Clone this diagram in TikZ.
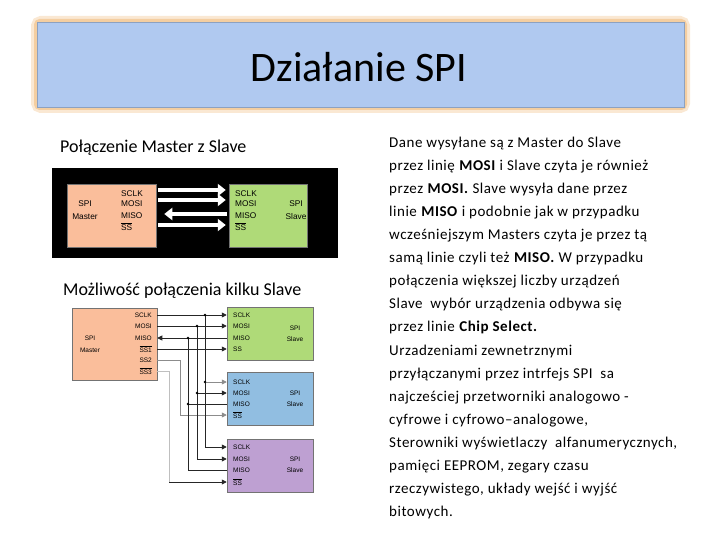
\documentclass[tikz,border=0pt]{standalone}
\usepackage{fontspec}
\setmainfont{Carlito}
\newfontfamily\diagfont{Liberation Sans}
\newfontfamily\wideface[LetterSpace=3.5]{Carlito}
\usetikzlibrary{positioning,arrows.meta}

% kolory
\definecolor{masterfill}{RGB}{250,190,155}
\definecolor{slavegreen}{RGB}{175,218,120}
\definecolor{slaveblue}{RGB}{145,190,225}
\definecolor{slavepurple}{RGB}{190,160,210}
\definecolor{titleblue}{RGB}{176,201,240}
\definecolor{titleglow}{RGB}{240,190,130}

\newcommand{\negpin}[1]{$\overline{\mbox{#1}}$}

\tikzset{
  chip/.style={draw=black!55,line width=0.5pt,inner sep=0},
  bigpin/.style={font=\diagfont\fontsize{8.3}{9}\selectfont,inner sep=0},
  smallpin/.style={font=\diagfont\fontsize{6.5}{7}\selectfont,inner sep=0},
  caption/.style={anchor=base west,font=\fontsize{18}{20}\selectfont,inner sep=0},
  wire/.style={line width=0.9pt,black!85},
  greywire/.style={line width=0.7pt,black!45},
  paleline/.style={line width=0.7pt,black!25},
  tip/.style={-{Triangle[length=5pt,width=5pt]}},
  fat/.style={white,line width=4.5pt,-{Triangle[length=8pt,width=12pt]}}
}

\begin{document}
\begin{tikzpicture}[x=1pt,y=-1pt]
\useasboundingbox (0,0) rectangle (720,540);

% naglowek
\draw[titleglow!35,line width=12pt,rounded corners=4] (37,22) rectangle (684,107);
\draw[titleglow!75,line width=6pt,rounded corners=3] (37,22) rectangle (684,107);
\node[fill=titleblue,draw=titleblue!80!black,line width=0.5pt,minimum width=647pt,minimum height=85pt,inner sep=0]
  (title) at (360.5,64.5) {};
\node[font=\fontsize{42}{44}\selectfont,inner sep=0] (titletext) at (359,67) {Działanie SPI};

% podpisy
\node[caption] (capone) at (60,153) {Połączenie Master z Slave};
\node[caption] (captwo) at (63,295) {Możliwość połączenia kilku Slave};

% --- jeden master, jeden slave ---
\node[fill=black,minimum width=286pt,minimum height=90pt,inner sep=0] (bgone) at (195,213) {};
\node[chip,fill=masterfill,minimum width=89pt,minimum height=63pt] (mone) at (111.5,215.5) {};
\node[chip,fill=slavegreen,minimum width=78pt,minimum height=63pt] (sone) at (268,215.5) {};

\node[bigpin] (monespi) at (85,204) {SPI};
\node[bigpin] (monename) at (85,217) {Master};
\node[bigpin,anchor=west] (moneclk) at (121,194) {SCLK};
\node[bigpin,anchor=west] (monemosi) at (121,204) {MOSI};
\node[bigpin,anchor=west] (monemiso) at (121,216) {MISO};
\node[bigpin,anchor=west] (moness) at (121,227) {\negpin{SS}};

\node[bigpin] (sonespi) at (296,204) {SPI};
\node[bigpin] (sonename) at (296,217) {Slave};
\node[bigpin,anchor=west] (soneclk) at (235,194) {SCLK};
\node[bigpin,anchor=west] (sonemosi) at (235,204) {MOSI};
\node[bigpin,anchor=west] (sonemiso) at (235,216) {MISO};
\node[bigpin,anchor=west] (soness) at (235,227) {\negpin{SS}};

% strzalki
\draw[fat,shorten <=2pt,shorten >=3pt] ([yshift=25.5pt]mone.east) -- ([yshift=25.5pt]sone.west);
\draw[fat,shorten <=2pt,shorten >=3pt] ([yshift=15.5pt]mone.east) -- ([yshift=15.5pt]sone.west);
\draw[fat,shorten <=2pt,shorten >=8pt] ([yshift=1.5pt]sone.west) -- ([yshift=1.5pt]mone.east);
\draw[fat,shorten <=2pt,shorten >=3pt] ([yshift=-9.5pt]mone.east) -- ([yshift=-9.5pt]sone.west);

% --- jeden master, trzy slave ---
\node[chip,fill=masterfill,minimum width=85pt,minimum height=72pt] (mtwo) at (114.5,344) {};
\node[chip,fill=slavegreen,minimum width=86pt,minimum height=53pt] (sa) at (270,333.5) {};
\node[chip,fill=slaveblue,minimum width=86pt,minimum height=53pt] (sb) at (270,399) {};
\node[chip,fill=slavepurple,minimum width=86pt,minimum height=53pt] (sc) at (270,465.5) {};

\node[smallpin] (mtwospi) at (90,338) {SPI};
\node[smallpin] (mtwoname) at (90,350) {Master};
\node[smallpin,anchor=east] (mclk) at (152,315) {SCLK};
\node[smallpin,anchor=east] (mmosi) at (152,326) {MOSI};
\node[smallpin,anchor=east] (mmiso) at (152,338) {MISO};
\node[smallpin,anchor=east] (mssa) at (152,349) {\negpin{SS1}};
\node[smallpin,anchor=east] (mssb) at (152,360) {SS2};
\node[smallpin,anchor=east] (mssc) at (152,371) {\negpin{SS3}};

\node[smallpin] (saspi) at (295,328) {SPI};
\node[smallpin] (saname) at (295,339) {Slave};
\node[smallpin,anchor=west] (aclk) at (233,315) {SCLK};
\node[smallpin,anchor=west] (amosi) at (233,326) {MOSI};
\node[smallpin,anchor=west] (amiso) at (233,338) {MISO};
\node[smallpin,anchor=west] (ass) at (233,349) {SS};

\node[smallpin] (sbspi) at (295,393) {SPI};
\node[smallpin] (sbname) at (295,404) {Slave};
\node[smallpin,anchor=west] (bclk) at (233,382) {SCLK};
\node[smallpin,anchor=west] (bmosi) at (233,393) {MOSI};
\node[smallpin,anchor=west] (bmiso) at (233,404) {MISO};
\node[smallpin,anchor=west] (bss) at (233,415) {\negpin{SS}};

\node[smallpin] (scspi) at (295,459) {SPI};
\node[smallpin] (scname) at (295,470) {Slave};
\node[smallpin,anchor=west] (cclk) at (233,447) {SCLK};
\node[smallpin,anchor=west] (cmosi) at (233,459) {MOSI};
\node[smallpin,anchor=west] (cmiso) at (233,470) {MISO};
\node[smallpin,anchor=west] (css) at (233,482) {\negpin{SS}};

% szyny
\coordinate (colclk) at (205,0);
\coordinate (colmosi) at (197,0);
\coordinate (colmiso) at (188,0);
\coordinate (colssb) at (180,0);
\coordinate (colssc) at (169,0);

\draw[paleline] (mtwo.east |- mssc) -| (colssc |- css);
\draw[wire,tip] (colssc |- css) -- (sc.west |- css);
\draw[greywire,tip] (mtwo.east |- mssb) -| (colssb |- bss) -- (sb.west |- bss);

\draw[wire,tip] (mtwo.east |- mclk) -- (sa.west |- aclk);
\draw[wire,tip] (mtwo.east |- mmosi) -- (sa.west |- amosi);
\draw[wire,tip] (sa.west |- amiso) -- (mtwo.east |- mmiso);
\draw[wire,tip] (mtwo.east |- mssa) -- (sa.west |- ass);

\draw[wire,tip] (colclk |- mclk) |- (sc.west |- cclk);
\draw[wire,tip] (colmosi |- mmosi) |- (sc.west |- cmosi);
\draw[wire] (colmiso |- mmiso) |- (sc.west |- cmiso);
\draw[greywire,tip] (colclk |- bclk) -- (sb.west |- bclk);
\draw[wire,tip] (colmosi |- bmosi) -- (sb.west |- bmosi);
\draw[wire] (colmiso |- bmiso) -- (sb.west |- bmiso);

% kropki
\fill (colclk |- mclk) circle (1.4);
\fill (colmosi |- mmosi) circle (1.4);
\fill (colmiso |- mmiso) circle (1.4);
\fill (colclk |- bclk) circle (1.4);
\fill (colmosi |- bmosi) circle (1.4);
\fill (colmiso |- bmiso) circle (1.4);

% opis
\node[anchor=north west,align=left,inner sep=0,font=\wideface\fontsize{15}{23.1}\selectfont] (desc) at (389,136.5) {%
Dane wysyłane są z Master do Slave\\
przez linię \textbf{MOSI} i Slave czyta je również\\
przez \textbf{MOSI.} Slave wysyła dane przez\\
linie \textbf{MISO} i podobnie jak w przypadku\\
wcześniejszym Masters czyta je przez tą\\
samą linie czyli też \textbf{MISO.} W przypadku\\
połączenia większej liczby urządzeń\\
Slave\ \ wybór urządzenia odbywa się\\
przez linie \textbf{Chip Select.}\\
Urzadzeniami zewnetrznymi\\
przyłączanymi przez intrfejs SPI\ \ sa\\
najcześciej przetworniki analogowo -\\
cyfrowe i cyfrowo–analogowe,\\
Sterowniki wyświetlaczy\ \ alfanumerycznych,\\
pamięci EEPROM, zegary czasu\\
rzeczywistego, układy wejść i wyjść\\
bitowych.};

\end{tikzpicture}
\end{document}
